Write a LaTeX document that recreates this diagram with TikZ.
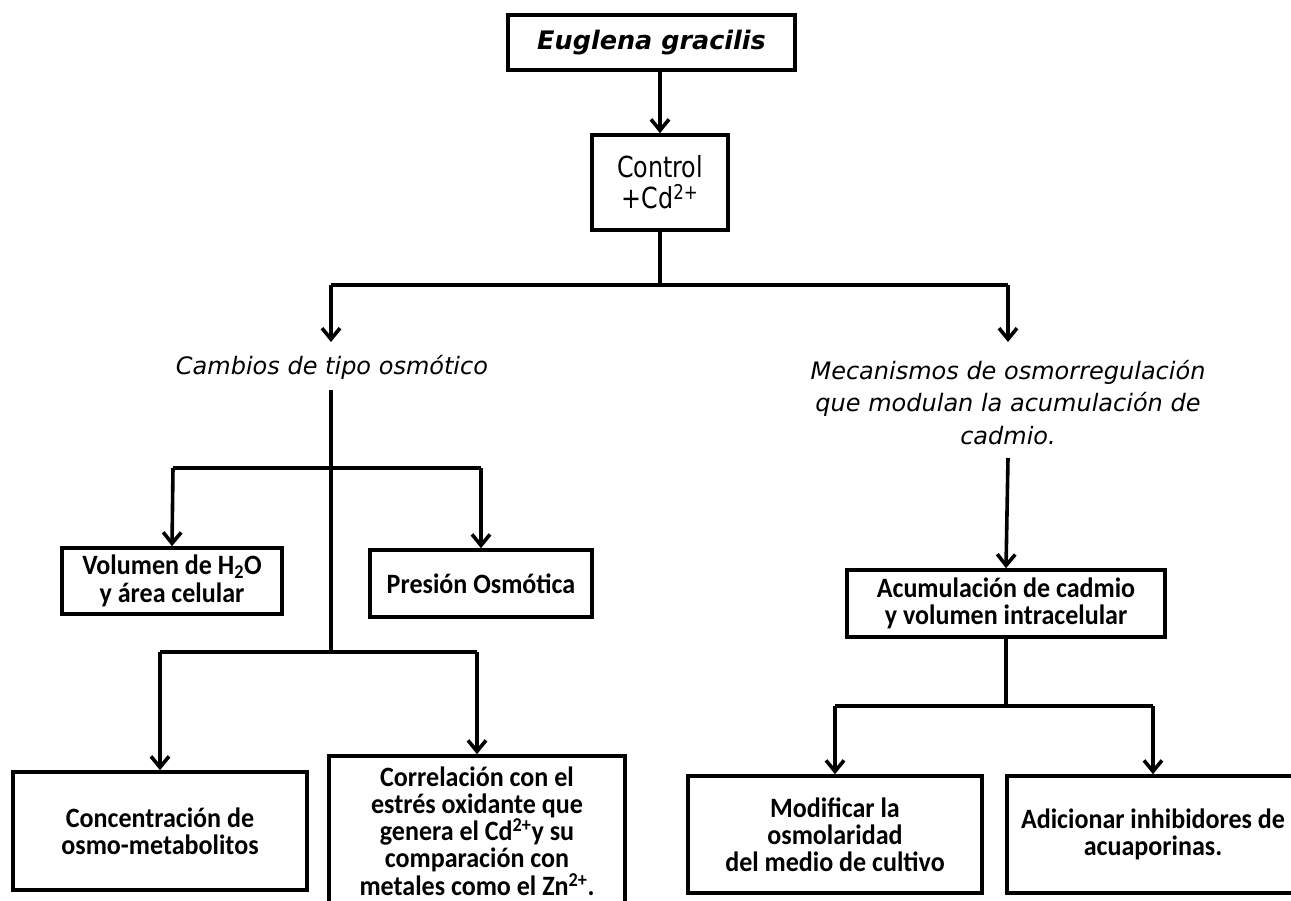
\documentclass[tikz,border=0pt]{standalone}
\usepackage{fontspec}
\setmainfont{DejaVu Sans}
\newfontfamily\boxfont[FakeStretch=0.93]{Carlito}
\newfontfamily\narrowfont[FakeStretch=0.82]{DejaVu Sans}
\usetikzlibrary{arrows.meta}
\begin{document}
\begin{tikzpicture}[x=1pt,y=-1pt,
  line width=3.6pt,
  arr/.style={-{Straight Barb[length=11pt,width=18pt,line width=3.6pt]}},
  bx/.style={draw,rectangle,inner sep=0pt,align=center,line width=3.6pt,font=\boxfont\bfseries\fontsize{28}{27}\selectfont},
  lbl/.style={inner sep=0pt,align=center,font=\itshape\fontsize{24}{32.5}\selectfont}]
\useasboundingbox (0,0) rectangle (1291,901);
\clip (0,0) rectangle (1291,901);
% nodes
\node[bx,minimum width=287pt,minimum height=55pt,font=\bfseries\itshape\fontsize{25.5}{30}\selectfont] (eug) at (651.5,42.5) {Euglena gracilis};
\node[bx,minimum width=136pt,minimum height=95pt,font=\narrowfont\fontsize{29}{31}\selectfont] (ctrl) at (660,182.5) {Control\\+Cd\textsuperscript{2+}};
\node[lbl] (camb) at (332,367) {Cambios de tipo osmótico};
\node[lbl] (meca) at (1008,402.5) {Mecanismos de osmorregulación\\que modulan la acumulación de\\cadmio.};
\node[bx,minimum width=220pt,minimum height=66pt,font=\boxfont\bfseries\fontsize{28}{28.5}\selectfont] (vol) at (172,581) {Volumen de H\textsubscript{2}O\\y área celular};
\node[bx,minimum width=222pt,minimum height=67pt] (pres) at (481,583.5) {Presión Osmótica};
\node[bx,minimum width=294pt,minimum height=118pt] (conc) at (160,831) {Concentración de\\osmo-metabolitos};
\node[bx,minimum width=296pt,minimum height=150pt,font=\boxfont\bfseries\fontsize{28}{27.2}\selectfont] (corr) at (477,831) {Correlación con el\\estrés oxidante que\\genera el Cd\textsuperscript{2+}y su\\comparación con\\metales como el Zn\textsuperscript{2+}.};
\node[bx,minimum width=318pt,minimum height=67pt] (acum) at (1006,603.5) {Acumulación de cadmio\\y volumen intracelular};
\node[bx,minimum width=294pt,minimum height=117pt] (modif) at (835,834.5) {Modificar la\\osmolaridad\\del medio de cultivo};
\node[bx,minimum width=292pt,minimum height=117pt] (adic) at (1153,834.5) {Adicionar inhibidores de\\acuaporinas.};
% junctions
\coordinate (j1) at (660,285);
\coordinate (jl) at (331,285);
\coordinate (jr) at (1008,285);
\coordinate (tl) at (331,342);
\coordinate (tr) at (1008,342);
\coordinate (v0) at (331,390);
\coordinate (v2) at (331,652);
\coordinate (a1) at (173,468);
\coordinate (a2) at (481,468);
\coordinate (b1) at (160,652);
\coordinate (b2) at (477,652);
\coordinate (m0) at (1008,458);
\coordinate (j2) at (1006,706);
\coordinate (c1) at (835,706);
\coordinate (c2) at (1153,706);
% connectors
\draw[arr] (ctrl.north |- eug.south) -- (ctrl.north);
\draw (ctrl.south) -- (j1);
\draw (jl) -- (jr);
\draw[arr] (jl) -- (tl);
\draw[arr] (jr) -- (tr);
\draw (v0) -- (v2);
\draw (a1) -- (a2);
\draw[arr] (a1) -- (vol.north);
\draw[arr] (a2) -- (pres.north);
\draw (b1) -- (b2);
\draw[arr] (b1) -- (conc.north);
\draw[arr] (b2) -- (corr.north);
\draw[arr] (m0) -- (acum.north);
\draw (acum.south) -- (j2);
\draw (c1) -- (c2);
\draw[arr] (c1) -- (modif.north);
\draw[arr] (c2) -- (adic.north);
\end{tikzpicture}
\end{document}
